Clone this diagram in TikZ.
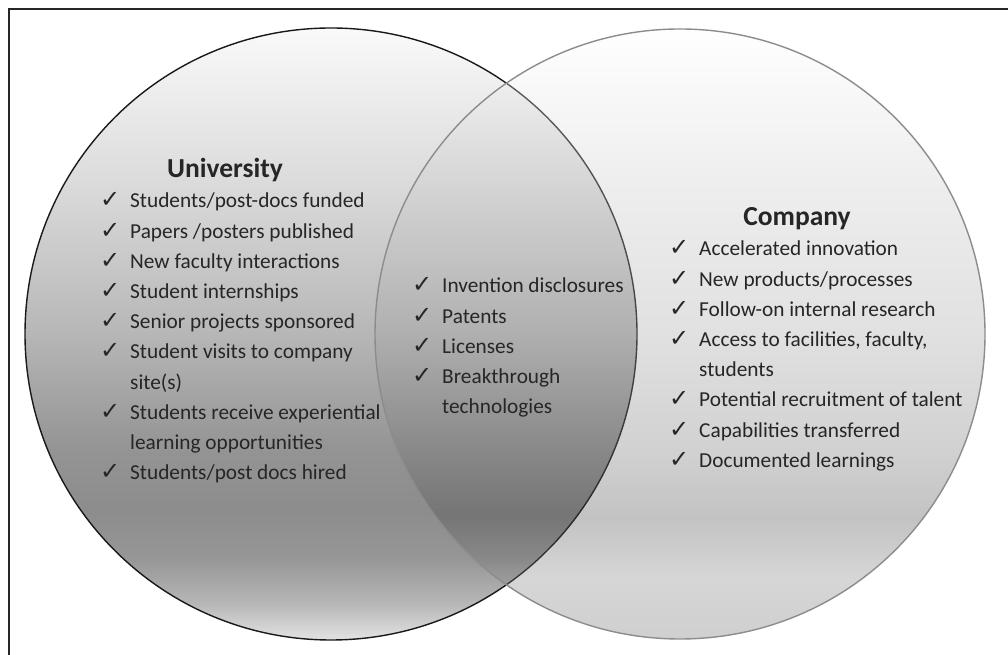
\documentclass[tikz,border=0pt]{standalone}
\usepackage{fontspec}
\setmainfont{Carlito}
\newfontfamily\chkfont{DejaVu Sans}
\usetikzlibrary{positioning}

\pgfdeclareverticalshading{univshade}{100bp}{color(0bp)=(white!89!black); color(25bp)=(white!89!black); color(27.9bp)=(white!72!black); color(31.6bp)=(white!59!black); color(35.7bp)=(white!55!black); color(40.6bp)=(white!58!black); color(50.3bp)=(white!72!black); color(62.5bp)=(white!86!black); color(75bp)=(white!98!black); color(100bp)=(white!98!black)}
\pgfdeclareverticalshading{compshade}{100bp}{color(0bp)=(white!42!black); color(25bp)=(white!42!black); color(30bp)=(white!51!black); color(34.9bp)=(white!27!black); color(40.6bp)=(white!45!black); color(50.3bp)=(white!64!black); color(62.5bp)=(white!80!black); color(75bp)=(white); color(100bp)=(white)}

\newcommand{\chk}{{\chkfont\fontsize{24}{24}\selectfont ✓}}

\begin{document}
\begin{tikzpicture}[x=1pt,y=1pt]
\useasboundingbox (0,0) rectangle (1008,655);
\fill[white] (0,0) rectangle (1008,655);
\draw[line width=2.5pt, black!85] (9,0) -- (9,646) -- (1008,646);

\coordinate (univ) at (331,321);
\coordinate (comp) at (680,321);
\shade[shading=univshade] (univ) circle (306pt);
\draw[line width=1.4pt, black!90] (univ) circle (306pt);
\shade[shading=compshade, fill opacity=0.32] (comp) circle (305pt);
\draw[line width=1.4pt, black!45] (comp) circle (305pt);

\begin{scope}
\tikzstyle{every node}=[inner sep=0pt, text=black!85];
\tikzstyle{title}=[anchor=base, font=\bfseries\fontsize{27.5}{30}\selectfont];
\tikzstyle{list}=[anchor=base west, font=\fontsize{21.3}{30.2}\selectfont];
\draw (225,477) node[title] (ut) {University};
\draw (797,429) node[title] (ct) {Company};

\draw (100,447) node[list] (ul) {\begin{tabular}[t]{@{}p{30pt}@{}l@{}}
\chk & Students/post-docs funded\\
\chk & Papers /posters published\\
\chk & New faculty interactions\\
\chk & Student internships\\
\chk & Senior projects sponsored\\
\chk & Student visits to company\\
     & site(s)\\
\chk & Students receive experiential\\
     & learning opportunities\\
\chk & Students/post docs hired
\end{tabular}};

\draw (412,362) node[list] (ml) {\begin{tabular}[t]{@{}p{30pt}@{}l@{}}
\chk & Invention disclosures\\
\chk & Patents\\
\chk & Licenses\\
\chk & Breakthrough\\
     & technologies
\end{tabular}};

\draw (669,399) node[list] (cl) {\begin{tabular}[t]{@{}p{30pt}@{}l@{}}
\chk & Accelerated innovation\\
\chk & New products/processes\\
\chk & Follow-on internal research\\
\chk & Access to facilities, faculty,\\
     & students\\
\chk & Potential recruitment of talent\\
\chk & Capabilities transferred\\
\chk & Documented learnings
\end{tabular}};
\end{scope}
\end{tikzpicture}
\end{document}
